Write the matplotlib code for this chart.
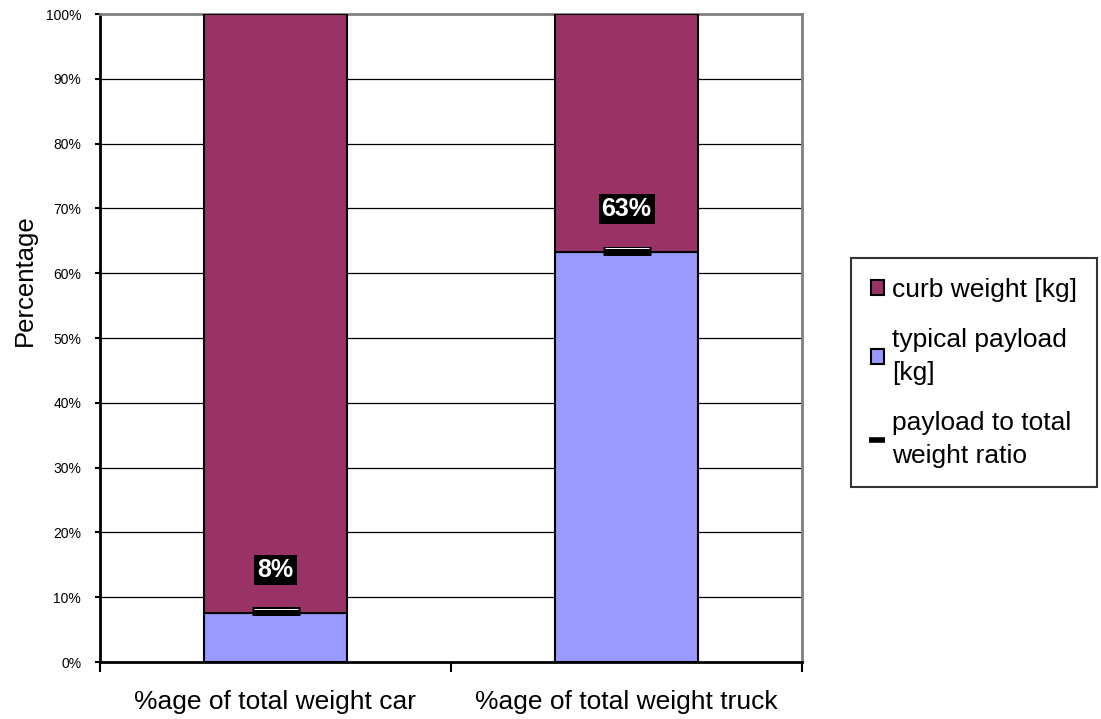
import matplotlib.pyplot as plt
import matplotlib.transforms as mtransforms
import numpy as np

plt.rcParams['font.family'] = ['Liberation Sans', 'DejaVu Sans']

categories = ['%age of total weight car', '%age of total weight truck']
payload = [7.5, 63.3]       # typical payload [kg], % of total
curb = [92.5, 36.7]         # curb weight [kg], % of total
ratio = [7.8, 63.5]         # payload to total weight ratio
ratio_labels = ['8%', '63%']
yticks = list(range(0, 101, 10))

fig = plt.figure(figsize=(11.01, 7.19), dpi=100)
ax = fig.add_axes([100 / 1101, 57 / 719, 702 / 1101, 648 / 719])

x = np.arange(len(categories))
w = 0.405
b_pay = ax.bar(x, payload, w, color='#9999FF', edgecolor='black', linewidth=1.5,
               zorder=3)
b_curb = ax.bar(x, curb, w, bottom=payload, color='#993366', edgecolor='black',
                linewidth=1.5, zorder=3)

# ratio markers (black dash with a thin white line near its top) and labels
m_ratio, = ax.plot(x, ratio, linestyle='none', marker='_', markersize=34,
                   mew=6.5, color='black', zorder=4)
up = mtransforms.offset_copy(ax.transData, fig=fig, x=0, y=1.6, units='points')
ax.plot(x, ratio, linestyle='none', marker='_', markersize=31, mew=0.7,
        color='white', zorder=5, transform=up)
for xi, r, t in zip(x, ratio, ratio_labels):
    ax.annotate(t, (xi, r), xytext=(0, 30), textcoords='offset points',
                ha='center', va='center', color='white', fontsize=18,
                fontweight='bold', zorder=6,
                bbox=dict(boxstyle='square,pad=0.12', fc='black', ec='none'))

ax.set_xlim(-0.5, len(categories) - 0.5)
ax.set_ylim(0, 100)
ax.set_yticks(yticks)
ax.set_yticklabels([f'{v}%' for v in yticks], fontsize=10)
ax.set_xticks(x)
ax.set_xticklabels(categories, fontsize=19)
ax.set_xticks([-0.5, 0.5, 1.5], minor=True)
ax.tick_params(axis='x', which='major', length=0, pad=20)
ax.tick_params(axis='x', which='minor', length=7, width=1.5, color='black')
ax.tick_params(axis='y', length=3.5, width=1.5, color='black', pad=10)
fig.text(25 / 1101, 1 - 280 / 719, 'Percentage', rotation=90, fontsize=18.5,
         ha='center', va='center')

for yv in yticks[1:-1]:
    ax.axhline(yv, color='black', linewidth=0.9, zorder=1)

ax.spines['left'].set_linewidth(2)
ax.spines['bottom'].set_linewidth(2)
ax.spines['top'].set_color('#808080')
ax.spines['right'].set_color('#808080')
ax.spines['top'].set_linewidth(2)
ax.spines['right'].set_linewidth(2)

leg = fig.legend([b_curb, b_pay, m_ratio],
                 ['curb weight [kg]', 'typical payload\n[kg]',
                  'payload to total\nweight ratio'],
                 loc='upper left', bbox_to_anchor=(851 / 1101, 1 - 258 / 719),
                 fontsize=19, frameon=True, fancybox=False, edgecolor='black',
                 handlelength=0.5, handleheight=0.5, handletextpad=0.3,
                 labelspacing=1.0, borderpad=0.75, borderaxespad=0)
for t in leg.get_texts():
    t.set_linespacing(1.45)
leg.get_frame().set_linewidth(1.5)
leg.legend_handles[2].set_markersize(12)
leg.legend_handles[2].set_markeredgewidth(4)

fig.savefig('out.png', dpi=100)
